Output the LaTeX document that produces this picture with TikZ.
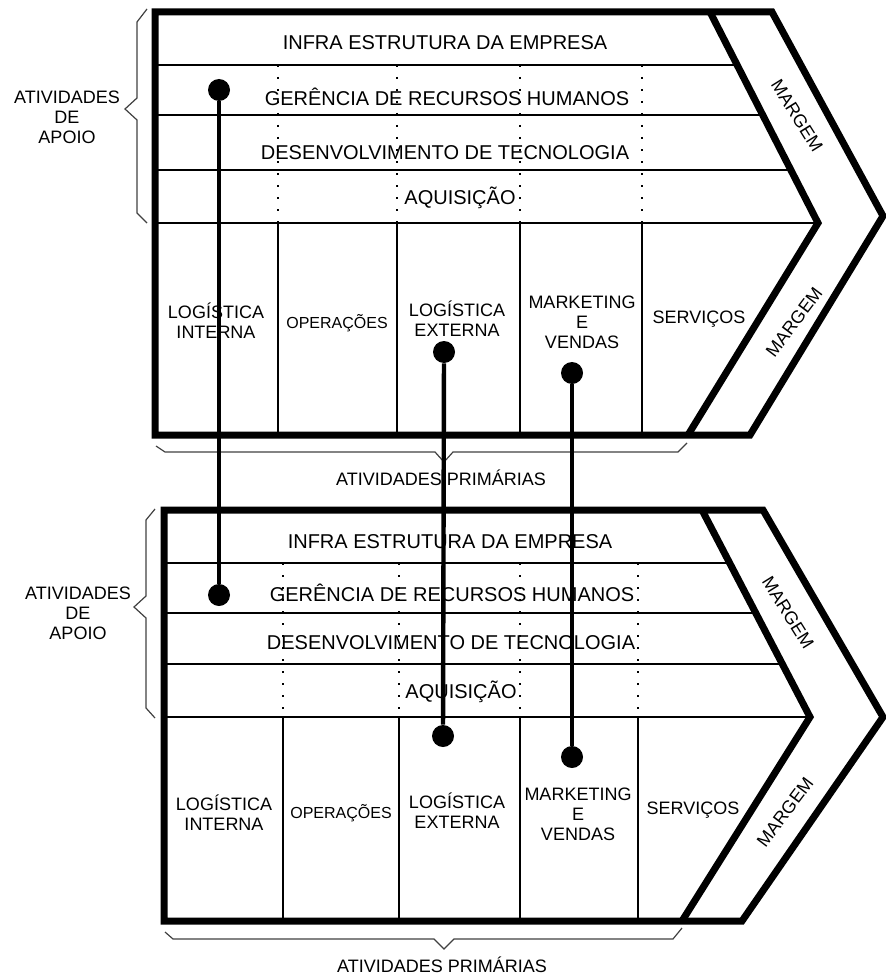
\documentclass[tikz,border=0pt]{standalone}
\usepackage{fontspec}
\setmainfont{Liberation Sans}
\begin{document}
\begin{tikzpicture}[x=0.5pt,y=-0.5pt,
  moldura/.style={line width=3.5pt,line join=miter},
  linha/.style={line width=1pt},
  coluna/.style={line width=0.7pt},
  pontilhado/.style={line width=1pt,dash pattern=on 1pt off 5pt},
  chave/.style={line width=0.6pt,color=black!75},
  ligacao/.style={line width=2.2pt},
  ponto/.style={circle,fill=black,inner sep=0pt,minimum size=11pt},
  texto/.style={font=\fontsize{9}{10}\selectfont,align=center},
  apoio/.style={font=\fontsize{10}{12}\selectfont}]

\useasboundingbox (0,0) rectangle (885,974);

% cadeia de cima
\draw[moldura] (155,12) -- (772,12) -- (883,216) -- (750,435) -- (155,435) -- cycle;
\draw[moldura] (710,12) -- (818,223) -- (688,435);

\draw[linha] (155,65) -- (737,65);
\draw[linha] (155,115) -- (763,115);
\draw[linha] (155,170) -- (791,170);
\draw[linha] (155,223) -- (818,223);

\draw[pontilhado] (278,65) -- (278,223);
\draw[pontilhado] (397,65) -- (397,223);
\draw[pontilhado] (520,65) -- (520,223);
\draw[pontilhado] (642,65) -- (642,223);
\draw[coluna] (278,223) -- (278,435);
\draw[coluna] (397,223) -- (397,435);
\draw[coluna] (520,223) -- (520,435);
\draw[coluna] (642,223) -- (642,435);

\node[apoio] (infra1) at (445,43) {INFRA ESTRUTURA DA EMPRESA};
\node[apoio] (rh1) at (447,97) {GERÊNCIA DE RECURSOS HUMANOS};
\node[apoio] (tec1) at (445,153) {DESENVOLVIMENTO DE TECNOLOGIA};
\node[apoio] (aq1) at (460,198) {AQUISIÇÃO};

\node[texto] (logint1) at (216,321) {LOGÍSTICA\\INTERNA};
\node[texto,font=\fontsize{8}{10}\selectfont] (oper1) at (337,323) {OPERAÇÕES};
\node[texto] (logext1) at (457,319) {LOGÍSTICA\\EXTERNA};
\node[texto] (mkt1) at (582,322) {MARKETING\\E\\VENDAS};
\node[texto] (serv1) at (699,319) {SERVIÇOS};

\node[texto,rotate=-58] (marg1a) at (797,116) {MARGEM};
\node[texto,rotate=53] (marg1b) at (794,322) {MARGEM};

\draw[chave] (147,9) -- (137,22) -- (137,98) -- (125,109) -- (137,120) -- (137,213) -- (147,223);
\node[texto] (apoio1) at (67,117) {ATIVIDADES\\DE\\APOIO};
\draw[chave] (156,446) -- (165,452) -- (435,452) -- (444,462) -- (453,452) -- (678,452) -- (687,443);
\node[texto] (prim1) at (441,478) {ATIVIDADES PRIMÁRIAS};

% cadeia de baixo
\draw[moldura] (164,510) -- (763,510) -- (883,717) -- (742,921) -- (164,921) -- cycle;
\draw[moldura] (702,510) -- (810,717) -- (682,921);

\draw[linha] (164,563) -- (730,563);
\draw[linha] (164,613) -- (756,613);
\draw[linha] (164,664) -- (782,664);
\draw[linha] (164,717) -- (810,717);

\draw[pontilhado] (283,563) -- (283,717);
\draw[pontilhado] (399,563) -- (399,717);
\draw[pontilhado] (520,563) -- (520,717);
\draw[pontilhado] (638,563) -- (638,717);
\draw[coluna] (283,717) -- (283,921);
\draw[coluna] (399,717) -- (399,921);
\draw[coluna] (520,717) -- (520,921);
\draw[coluna] (638,717) -- (638,921);

\node[apoio] (infra2) at (450,542) {INFRA ESTRUTURA DA EMPRESA};
\node[apoio] (rh2) at (452,593) {GERÊNCIA DE RECURSOS HUMANOS};
\node[apoio] (tec2) at (451,643) {DESENVOLVIMENTO DE TECNOLOGIA};
\node[apoio] (aq2) at (461,692) {AQUISIÇÃO};

\node[texto] (logint2) at (224,813) {LOGÍSTICA\\INTERNA};
\node[texto,font=\fontsize{8}{10}\selectfont] (oper2) at (341,813) {OPERAÇÕES};
\node[texto] (logext2) at (457,811) {LOGÍSTICA\\EXTERNA};
\node[texto] (mkt2) at (578,814) {MARKETING\\E\\VENDAS};
\node[texto] (serv2) at (693,810) {SERVIÇOS};

\node[texto,rotate=-58] (marg2a) at (788,613) {MARGEM};
\node[texto,rotate=53] (marg2b) at (785,812) {MARGEM};

\draw[chave] (155,509) -- (146,520) -- (146,596) -- (134,607) -- (146,618) -- (146,708) -- (155,718);
\node[texto] (apoio2) at (78,613) {ATIVIDADES\\DE\\APOIO};
\draw[chave] (165,932) -- (173,939) -- (434,939) -- (444,949) -- (454,939) -- (673,939) -- (682,928);
\node[texto] (prim2) at (442,965) {ATIVIDADES PRIMÁRIAS};

% ligacoes
\node[ponto] (dotA1) at (219,90) {};
\node[ponto] (dotB1) at (444,352) {};
\node[ponto] (dotC1) at (572,373) {};
\node[ponto] (dotA2) at (219,595) {};
\node[ponto] (dotB2) at (443,736) {};
\node[ponto] (dotC2) at (572,757) {};
\draw[ligacao] (dotA1) -- (dotA2);
\draw[ligacao] (dotB1) -- (dotB2);
\draw[ligacao] (dotC1) -- (dotC2);
\end{tikzpicture}
\end{document}
